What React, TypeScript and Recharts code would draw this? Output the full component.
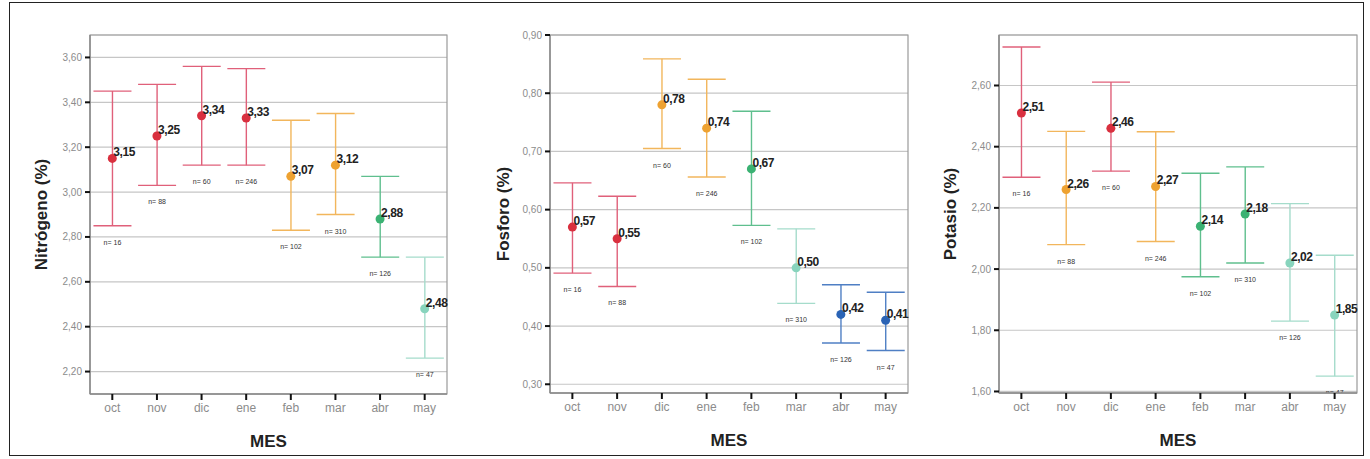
import React from 'react';
import { ComposedChart, Bar, Line, XAxis, YAxis, CartesianGrid, ReferenceArea, LabelList } from 'recharts';

const months = ['oct', 'nov', 'dic', 'ene', 'feb', 'mar', 'abr', 'may'];
const nCounts = ['n= 16', 'n= 88', 'n= 60', 'n= 246', 'n= 102', 'n= 310', 'n= 126', 'n= 47'];

const nitroMean = [3.15, 3.25, 3.34, 3.33, 3.07, 3.12, 2.88, 2.48];
const nitroLow = [2.85, 3.03, 3.12, 3.12, 2.83, 2.9, 2.71, 2.26];
const nitroHigh = [3.45, 3.48, 3.56, 3.55, 3.32, 3.35, 3.07, 2.71];
const nitroColor = ['r', 'r', 'r', 'r', 'o', 'o', 'g', 't'];
const nitroTicks = [2.2, 2.4, 2.6, 2.8, 3.0, 3.2, 3.4, 3.6];

const phosMean = [0.57, 0.55, 0.78, 0.74, 0.67, 0.5, 0.42, 0.41];
const phosLow = [0.491, 0.468, 0.705, 0.656, 0.573, 0.439, 0.371, 0.358];
const phosHigh = [0.646, 0.623, 0.859, 0.824, 0.769, 0.567, 0.471, 0.458];
const phosColor = ['r', 'r', 'o', 'o', 'g', 't', 'b', 'b'];
const phosTicks = [0.3, 0.4, 0.5, 0.6, 0.7, 0.8, 0.9];

const potaMean = [2.51, 2.26, 2.46, 2.27, 2.14, 2.18, 2.02, 1.85];
const potaLow = [2.3, 2.08, 2.32, 2.09, 1.975, 2.02, 1.83, 1.65];
const potaHigh = [2.726, 2.45, 2.611, 2.449, 2.313, 2.334, 2.214, 2.045];
const potaColor = ['r', 'o', 'r', 'o', 'g', 'g', 't', 't'];
const potaTicks = [1.6, 1.8, 2.0, 2.2, 2.4, 2.6];

const palette: Record<string, { dot: string; bar: string }> = {
  r: { dot: '#d9303f', bar: '#e0607a' },
  o: { dot: '#eea231', bar: '#f2b65c' },
  g: { dot: '#3bb273', bar: '#5fbf8e' },
  t: { dot: '#88d4bd', bar: '#a5dccb' },
  b: { dot: '#2a63b5', bar: '#4f7fc4' },
};

const FONT = '"Liberation Sans", Arial, sans-serif';

const fmt = (v: number) => v.toFixed(2).replace('.', ',');

function buildRows(mean: number[], low: number[], high: number[], color: string[]) {
  return months.map((m, i) => ({ m, mean: mean[i], range: [low[i], high[i]], c: color[i], n: nCounts[i] }));
}

const WhiskerShape = (props: any) => {
  const { x, y, width, height, payload } = props;
  if (x == null || y == null) return null;
  const cx = x + width / 2;
  const top = Math.min(y, y + height);
  const bot = Math.max(y, y + height);
  const col = palette[payload.c].bar;
  return (
    <g>
      <line x1={cx} x2={cx} y1={top} y2={bot} stroke={col} strokeWidth={1.4} />
      <line x1={cx - 19} x2={cx + 19} y1={top} y2={top} stroke={col} strokeWidth={1.4} />
      <line x1={cx - 19} x2={cx + 19} y1={bot} y2={bot} stroke={col} strokeWidth={1.4} />
      <text x={cx} y={bot + 19} textAnchor="middle" fontSize={7} fill="#333" stroke="none" fontFamily={FONT}>
        {payload.n}
      </text>
    </g>
  );
};

const ValueLabel = (props: any) => {
  const { x, y, value } = props;
  return (
    <text x={x + 1} y={y - 2} fontSize={12} fontWeight="bold" fill="#222" letterSpacing={-0.4} fontFamily={FONT}>
      {fmt(value)}
    </text>
  );
};

interface PanelProps {
  left: number;
  rows: any[];
  domain: [number, number];
  ticks: number[];
  title: string;
  axisWidth: number;
  titleX: number;
  right: number;
  bottom: number;
}

function Panel({ left, rows, domain, ticks, title, axisWidth, titleX, right, bottom }: PanelProps) {
  return (
    <div style={{ position: 'absolute', left, top: 0 }}>
      <ComposedChart width={460} height={459} data={rows} margin={{ top: 35, right, bottom, left: 0 }}>
        <CartesianGrid vertical={false} stroke="#c6c6c6" strokeWidth={1.2} />
        <ReferenceArea y1={domain[0]} y2={domain[1]} fill="none" stroke="#9a9a9a" strokeWidth={1.2} ifOverflow="visible" />
        <XAxis
          dataKey="m"
          interval={0}
          height={60}
          tickSize={6}
          tickMargin={3}
          axisLine={{ stroke: '#8a8a8a', strokeWidth: 1.5 }}
          tickLine={{ stroke: '#111', strokeWidth: 2 }}
          tick={{ fontSize: 12, fill: '#8c8c8c', fontFamily: FONT }}
          label={{
            content: (p: any) => (
              <text
                x={p.viewBox.x + p.viewBox.width / 2}
                y={p.viewBox.y + 53}
                textAnchor="middle"
                fontSize={17}
                fontWeight="bold"
                fill="#222"
                fontFamily={FONT}
              >
                MES
              </text>
            ),
          }}
        />
        <YAxis
          type="number"
          domain={domain}
          ticks={ticks}
          allowDataOverflow
          width={axisWidth}
          tickSize={5}
          tickMargin={3}
          tickFormatter={fmt}
          axisLine={{ stroke: '#8a8a8a', strokeWidth: 1.5 }}
          tickLine={{ stroke: '#111', strokeWidth: 2 }}
          tick={{ fontSize: 10, fill: '#8c8c8c', fontFamily: FONT }}
          label={{
            content: (p: any) => {
              const cy = p.viewBox.y + p.viewBox.height / 2;
              return (
                <text
                  x={titleX}
                  y={cy}
                  transform={`rotate(-90, ${titleX}, ${cy})`}
                  textAnchor="middle"
                  dominantBaseline="central"
                  fontSize={17}
                  fontWeight="bold"
                  fill="#222"
                  fontFamily={FONT}
                >
                  {title}
                </text>
              );
            },
          }}
        />
        <Bar dataKey="range" shape={WhiskerShape} isAnimationActive={false} legendType="none" />
        <Line
          dataKey="mean"
          stroke="none"
          isAnimationActive={false}
          activeDot={false}
          legendType="none"
          dot={(p: any) => (
            <circle key={`d-${p.index}`} cx={p.cx} cy={p.cy} r={4.5} fill={palette[p.payload.c].dot} />
          )}
        >
          <LabelList dataKey="mean" content={ValueLabel} />
        </Line>
      </ComposedChart>
    </div>
  );
}

export default function App() {
  const nitroRows = buildRows(nitroMean, nitroLow, nitroHigh, nitroColor);
  const phosRows = buildRows(phosMean, phosLow, phosHigh, phosColor);
  const potaRows = buildRows(potaMean, potaLow, potaHigh, potaColor);

  return (
    <div style={{ position: 'absolute', left: 0, top: 0, width: 1370, height: 459, background: '#fff', fontFamily: FONT }}>
      <div style={{ position: 'absolute', left: 9, top: 2, width: 1353, height: 452, border: '1px solid #222' }} />
      <Panel left={0} rows={nitroRows} domain={[2.1, 3.7]} ticks={nitroTicks} title="Nitrógeno (%)" axisWidth={90} titleX={41} right={13} bottom={5} />
      <Panel left={455} rows={phosRows} domain={[0.285, 0.9]} ticks={phosTicks} title="Fosforo (%)" axisWidth={95} titleX={48} right={7} bottom={6} />
      <Panel left={910} rows={potaRows} domain={[1.595, 2.765]} ticks={potaTicks} title="Potasio (%)" axisWidth={89} titleX={40} right={13} bottom={6} />
    </div>
  );
}
